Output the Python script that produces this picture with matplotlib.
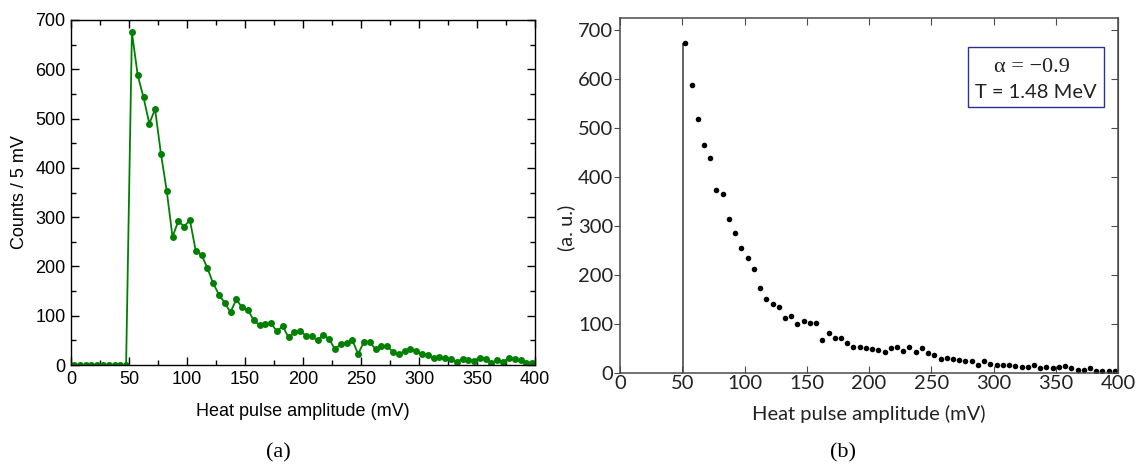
import numpy as np
import matplotlib
matplotlib.use("Agg")
import matplotlib.pyplot as plt
from matplotlib.ticker import MultipleLocator
from matplotlib.patches import Rectangle

# ---------------- data ----------------
# Panel (a): measured histogram, 5 mV bins (bin centres)
a_x = [2.5 + 5 * i for i in range(80)]
a_counts = [0, 0, 0, 0, 0, 0, 0, 0, 0, 0,
            675, 588, 543, 490, 519, 429, 354, 260, 292, 281,
            294, 232, 224, 197, 166, 143, 126, 107, 133, 117,
            112, 91, 81, 83, 85, 68, 79, 56, 66, 70,
            59, 58, 50, 61, 53, 32, 42, 45, 51, 22,
            47, 47, 32, 39, 38, 27, 22, 28, 32, 28,
            22, 20, 15, 16, 14, 12, 6, 13, 10, 9,
            14, 13, 4, 11, 6, 15, 12, 10, 5, 5]

# Panel (b): model spectrum
b_x = [52.5 + 5 * i for i in range(70)]
b_vals = [674, 589, 519, 465, 439, 373, 366, 314, 285, 254,
          234, 211, 173, 151, 141, 135, 112, 115, 100, 105,
          102, 102, 67, 82, 70, 71, 61, 53, 53, 50,
          48, 47, 43, 50, 52, 44, 52, 43, 50, 40,
          36, 29, 31, 27, 25, 23, 23, 15, 24, 18,
          16, 16, 16, 14, 12, 12, 15, 10, 12, 10,
          12, 14, 9, 6, 6, 10, 4, 4, 4, 4]
b_threshold = 51
b_alpha = "\u03b1 = \u22120.9"
b_T = "T = 1.48 MeV"

xlabel = "Heat pulse amplitude (mV)"

# ---------------- figure ----------------
W, H = 1137, 466
fig = plt.figure(figsize=(W / 100, H / 100), dpi=100)

def fx(px):
    return px / W

def fy(py):
    return 1 - py / H

# ---- panel (a) ----
axA = fig.add_axes([fx(71), fy(365), fx(535) - fx(71), fy(20) - fy(365)])
axA.plot(a_x, a_counts, color="#008000", lw=1.3, marker="o", ms=5,
         markeredgewidth=0, clip_on=True)
axA.set_xlim(0, 400)
axA.set_ylim(0, 700)
axA.xaxis.set_major_locator(MultipleLocator(50))
axA.xaxis.set_minor_locator(MultipleLocator(25))
axA.yaxis.set_major_locator(MultipleLocator(100))
axA.yaxis.set_minor_locator(MultipleLocator(50))
axA.tick_params(which="both", direction="in", top=True, right=True,
                labelsize=13, width=1, color="black")
axA.tick_params(which="major", length=6, pad=4)
axA.tick_params(which="minor", length=3.5)
for lab in axA.get_xticklabels() + axA.get_yticklabels():
    lab.set_fontfamily("Liberation Sans")
for s in axA.spines.values():
    s.set_linewidth(1.0)
    s.set_color("black")
axA.set_xlabel(xlabel, fontsize=13, family="Liberation Sans", labelpad=11)
axA.set_ylabel("Counts / 5 mV", fontsize=13, family="Liberation Sans",
               labelpad=5)

# ---- panel (b) ----
gray = "#4a4a4a"
axB = fig.add_axes([fx(620), fy(372.7), fx(1118) - fx(620),
                    fy(18) - fy(372.7)])
axB.vlines(b_threshold, 0, b_vals[0], color=gray, lw=1.2)
axB.plot(b_x, b_vals, ls="none", marker="o", ms=4, color="black",
         markeredgewidth=0)
axB.set_xlim(0, 400)
axB.set_ylim(0, 725)
axB.xaxis.set_major_locator(MultipleLocator(50))
axB.yaxis.set_major_locator(MultipleLocator(100))
axB.tick_params(axis="x", direction="in", top=True, length=5, color=gray,
                labelsize=14.5, pad=2)
axB.tick_params(axis="y", direction="out", length=4, color=gray,
                labelsize=14.5, pad=1)
for lab in axB.get_xticklabels() + axB.get_yticklabels():
    lab.set_fontfamily("Lato")
    lab.set_color("#222222")
for s in axB.spines.values():
    s.set_linewidth(1.1)
    s.set_color(gray)
sec = axB.secondary_yaxis("right")
sec.yaxis.set_major_locator(MultipleLocator(100))
sec.tick_params(direction="in", length=5, color=gray, labelright=False)
sec.spines["right"].set_color(gray)
axB.set_xlabel(xlabel, fontsize=14.5, family="Lato", color="#222222",
               labelpad=9)
fig.text(fx(566), fy(228), "(a. u.)", rotation=90, ha="center", va="center",
         fontsize=14.5, family="Lato", color="#222222")

# annotation box
box = Rectangle((fx(968), fy(107)), fx(1104) - fx(968), fy(47) - fy(107),
                transform=fig.transFigure, fill=True, facecolor="white",
                edgecolor="#2e3192", lw=1.0)
fig.add_artist(box)
fig.text(fx(1032), fy(67), b_alpha, ha="center", va="center", fontsize=16,
         family="Liberation Serif", color="#222222")
fig.text(fx(1036), fy(93), b_T, ha="center", va="center", fontsize=14.5,
         family="Lato", color="#222222")

# captions
fig.text(fx(278), fy(453), "(a)", ha="center", va="center", fontsize=16,
         family="Liberation Serif")
fig.text(fx(843), fy(453), "(b)", ha="center", va="center", fontsize=16,
         family="Liberation Serif")

fig.savefig("out.png", dpi=100)
